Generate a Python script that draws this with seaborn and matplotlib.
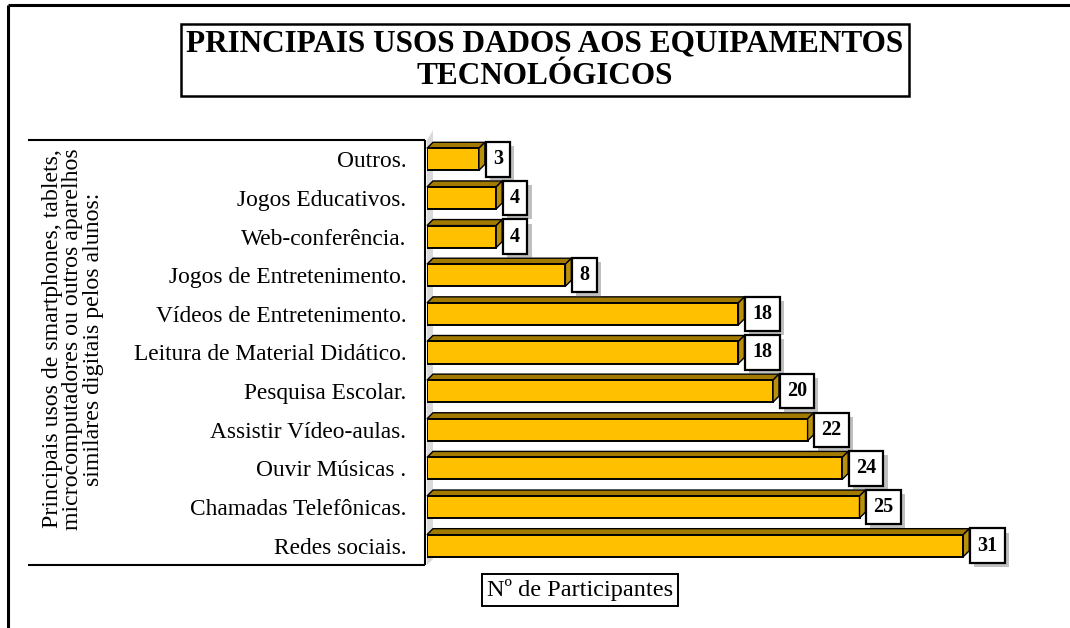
import matplotlib
matplotlib.use("Agg")
import matplotlib.pyplot as plt
import seaborn as sns
import pandas as pd
from matplotlib.patches import Polygon
from matplotlib.lines import Line2D
import matplotlib.patheffects as pe

categories = ["Outros.", "Jogos Educativos.", "Web-conferência.", "Jogos de Entretenimento.",
              "Vídeos de Entretenimento.", "Leitura de Material Didático.", "Pesquisa Escolar.",
              "Assistir Vídeo-aulas.", "Ouvir Músicas .", "Chamadas Telefônicas.", "Redes sociais."]
values = [3, 4, 4, 8, 18, 18, 20, 22, 24, 25, 31]

title = "PRINCIPAIS USOS DADOS AOS EQUIPAMENTOS\nTECNOLÓGICOS"
ylabel = ("Principais usos de smartphones, tablets,\n"
          "microcomputadores ou outros aparelhos\n"
          "similares digitais pelos alunos:")
xlabel = "Nº de Participantes"

sns.set_theme(style="white")
plt.rcParams['font.family'] = ['Liberation Serif', 'DejaVu Serif']
plt.rcParams['text.color'] = 'black'
plt.rcParams['ytick.color'] = 'black'
plt.rcParams['ytick.labelcolor'] = 'black'

W, H = 1070, 628
fig = plt.figure(figsize=(W / 100, H / 100), dpi=100)
fig.patch.set_facecolor("white")

px_per_unit = 17.3
xmax = 36
ax_left, ax_top, ax_bottom = 427, 140, 565
ax = fig.add_axes([ax_left / W, 1 - ax_bottom / H, xmax * px_per_unit / W, (ax_bottom - ax_top) / H])

df = pd.DataFrame({"cat": categories, "val": values})
sns.barplot(data=df, x="val", y="cat", orient="h", color="#FFC000", saturation=1,
            edgecolor="black", linewidth=1.4, width=0.57, ax=ax, zorder=3)
ax.set_xlim(0, xmax)
ax.set_ylim(len(categories) - 0.5, -0.5)

step_px = (ax_bottom - ax_top) / len(categories)
dx = 6 / px_per_unit
dy = 6 / step_px

# grey back wall
wall = Polygon([(0, len(categories) - 0.5), (0, -0.5), (dx, -0.5 - dy * 1.6),
                (dx, len(categories) - 0.5 - dy)], closed=True, facecolor="#D9D9D9",
               edgecolor="none", zorder=1, clip_on=False)
ax.add_patch(wall)

for p, v in zip(ax.patches[:len(values)], values):
    x0 = p.get_x()
    x1 = x0 + p.get_width()
    y0 = p.get_y()
    h = p.get_height()
    top = Polygon([(x0, y0), (x1, y0), (x1 + dx, y0 - dy), (x0 + dx, y0 - dy)], closed=True,
                  facecolor="#A27A00", edgecolor="black", linewidth=1.0, zorder=2.9, clip_on=False)
    side = Polygon([(x1, y0), (x1 + dx, y0 - dy), (x1 + dx, y0 + h - dy), (x1, y0 + h)], closed=True,
                   facecolor="#B8900A", edgecolor="black", linewidth=1.0, zorder=3.1, clip_on=False)
    ax.add_patch(top)
    ax.add_patch(side)
    t = ax.annotate(f"{v}", xy=(x1, y0 + h / 2), xytext=(10, 0), textcoords="offset points",
                    ha="left", va="center", fontsize=14.5, fontweight="bold", color="black",
                    bbox=dict(boxstyle="square,pad=0.36", facecolor="white", edgecolor="black", linewidth=1.6),
                    zorder=5)
    t.get_bbox_patch().set_path_effects([pe.SimplePatchShadow(offset=(3, -3), alpha=0.35), pe.Normal()])

for s in ax.spines.values():
    s.set_visible(False)
ax.set_xticks([])
ax.tick_params(axis="y", length=0, pad=15, labelsize=16.8, labelcolor="black")
ax.set_xlabel("")
ax.set_ylabel("")
ax.set_facecolor("none")

def figline(x0, y0, x1, y1, lw):
    fig.add_artist(Line2D([x0 / W, x1 / W], [1 - y0 / H, 1 - y1 / H], color="black", linewidth=lw,
                          solid_capstyle="butt"))

# label panel (top, right, bottom borders)
figline(28, 140, 425, 140, 1.5)
figline(425, 140, 425, 565, 1.5)
figline(28, 565, 425, 565, 1.5)

# outer frame
figline(8, 5, W, 5, 2.2)
figline(8, 5, 8, H, 2.2)

fig.text(73 / W, 1 - 339 / H, ylabel, rotation=90, ha="center", va="center", fontsize=17.2,
         multialignment="center", linespacing=0.95, color="black")

fig.text(545 / W, 1 - 60 / H, title, ha="center", va="center", fontsize=22.5, fontweight="bold",
         linespacing=1.15, color="black",
         bbox=dict(boxstyle="square,pad=0.18", facecolor="white", edgecolor="black", linewidth=1.8))

fig.text(580 / W, 1 - 590 / H, xlabel, ha="center", va="center", fontsize=17.5, color="black",
         bbox=dict(boxstyle="square,pad=0.2", facecolor="white", edgecolor="black", linewidth=1.4))

fig.savefig("out.png", dpi=100)
